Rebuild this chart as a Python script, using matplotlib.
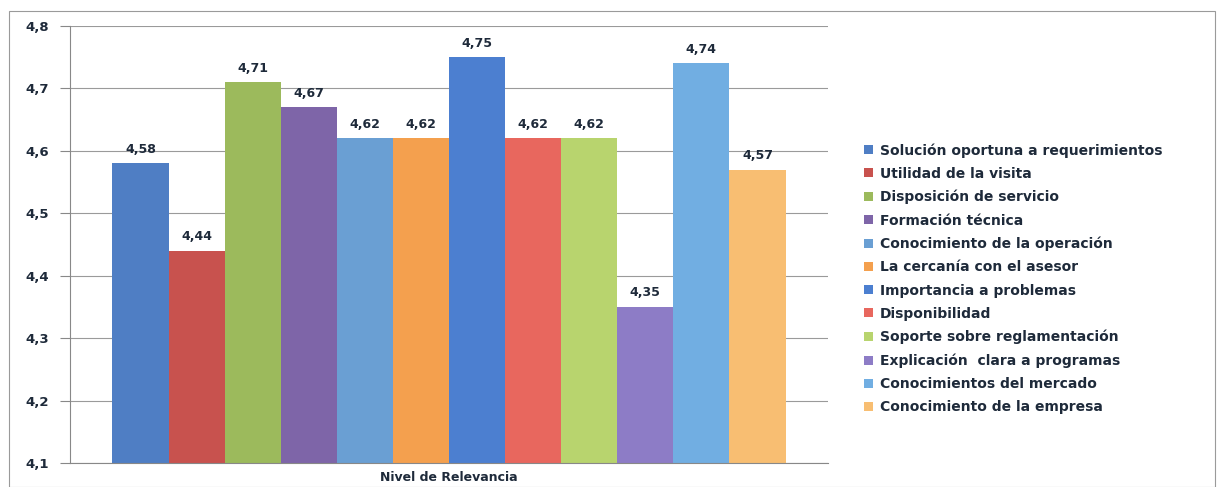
import numpy as np
import matplotlib.pyplot as plt
from matplotlib.patches import Rectangle

# categories and values
labels = ['Solución oportuna a requerimientos', 'Utilidad de la visita',
          'Disposición de servicio', 'Formación técnica',
          'Conocimiento de la operación', 'La cercanía con el asesor',
          'Importancia a problemas', 'Disponibilidad',
          'Soporte sobre reglamentación', 'Explicación  clara a programas',
          'Conocimientos del mercado', 'Conocimiento de la empresa']
values = [4.58, 4.44, 4.71, 4.67, 4.62, 4.62, 4.75, 4.62, 4.62, 4.35, 4.74, 4.57]
colors = ['#4F7EC4', '#C8524E', '#9CBA5C', '#7E65A8', '#6A9FD3', '#F4A04E',
          '#4C7FD0', '#E8675E', '#B8D46E', '#8D7CC6', '#71AEE2', '#F8BE72']
yticks = [4.1, 4.2, 4.3, 4.4, 4.5, 4.6, 4.7, 4.8]
xlabel = 'Nivel de Relevancia'

txtcol = '#1E2A3A'

fig = plt.figure(figsize=(12.2, 4.87), dpi=100)
ax = fig.add_axes([0.057, 0.049, 0.622, 0.898])

n = len(values)
group = 0.887
w = group / n
x0 = -group / 2 + w / 2
xs = [x0 + i * w for i in range(n)]

ymin = 4.1
bars = ax.bar(xs, [v - ymin for v in values], width=w, bottom=ymin,
              color=colors, edgecolor='none', label=labels, zorder=2)

for x, v in zip(xs, values):
    ax.text(x, v + 0.012, ('%.2f' % v).replace('.', ','), ha='center', va='bottom',
            fontsize=9, fontweight='bold', color=txtcol, zorder=3)

ax.set_xlim(-0.5, 0.5)
ax.set_ylim(4.1, 4.8)
ax.set_yticks(yticks)
ax.set_yticklabels([('%.1f' % t).replace('.', ',') for t in yticks],
                   fontsize=9.5, fontweight='bold', color=txtcol)
ax.tick_params(axis='y', length=7, color='#888888', pad=8)
ax.set_xticks([0])
ax.set_xticklabels([xlabel], fontsize=9, fontweight='bold', color=txtcol)
ax.tick_params(axis='x', length=0, pad=6)
ax.yaxis.grid(True, color='#9A9A9A', linewidth=0.8, zorder=0)
ax.set_axisbelow(True)
for s in ['top', 'right']:
    ax.spines[s].set_visible(False)
ax.spines['left'].set_color('#888888')
ax.spines['bottom'].set_color('#888888')

leg = fig.legend(handles=bars, labels=labels, loc='upper left',
                 bbox_to_anchor=(0.698, 0.732), frameon=False,
                 handlelength=0.65, handleheight=0.65, handletextpad=0.5,
                 labelspacing=0.66,
                 prop={'size': 10, 'weight': 'bold'})
for t in leg.get_texts():
    t.set_color(txtcol)

# outer chart border
fig.patches.append(Rectangle((0.007, 0.0), 0.989, 0.978, transform=fig.transFigure,
                             fill=False, edgecolor='#9A9A9A', linewidth=0.8))

fig.savefig('out.png', dpi=100)
